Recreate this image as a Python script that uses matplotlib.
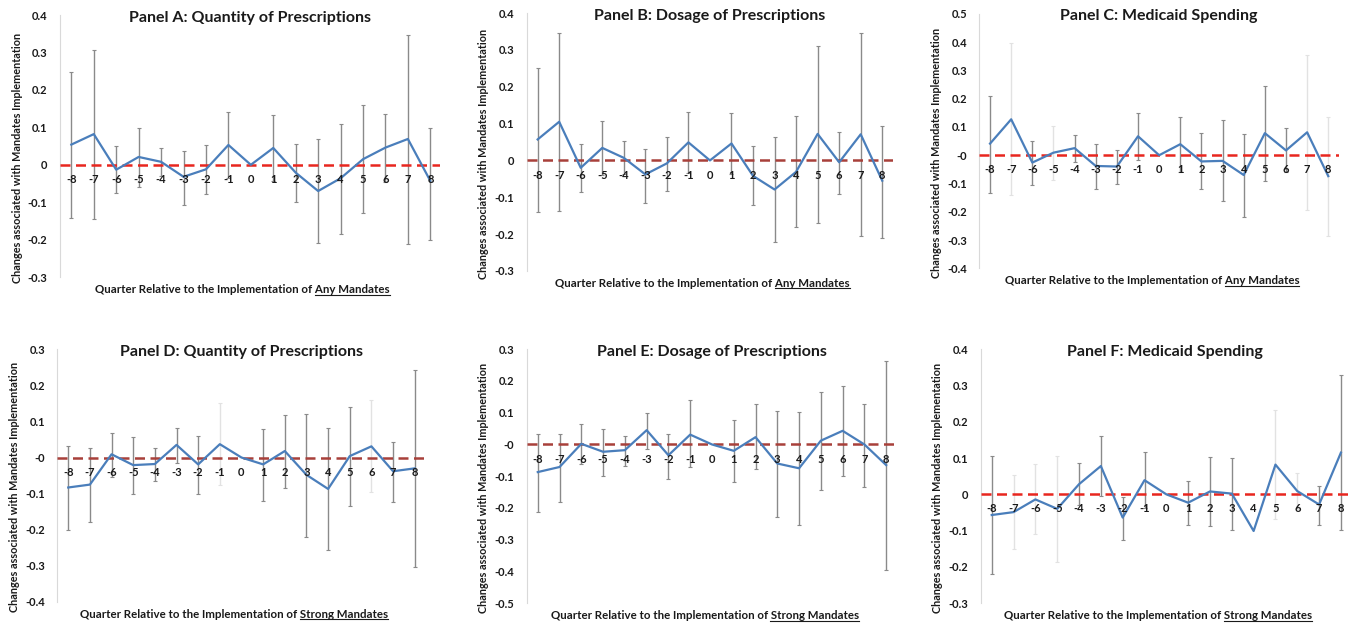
import numpy as np
import matplotlib.pyplot as plt
from matplotlib.lines import Line2D

plt.rcParams['font.family'] = ['Lato', 'DejaVu Sans']

nan = np.nan
quarters = list(range(-8, 9))

titles = ["Panel A: Quantity of Prescriptions", "Panel B: Dosage of Prescriptions",
          "Panel C: Medicaid Spending", "Panel D: Quantity of Prescriptions",
          "Panel E: Dosage of Prescriptions", "Panel F: Medicaid Spending"]
mandate = ["Any Mandates", "Any Mandates", "Any Mandates",
           "Strong Mandates", "Strong Mandates", "Strong Mandates"]

# point estimates
A_val = [0.054, 0.082, -0.013, 0.021, 0.008, -0.032, -0.012, 0.053, 0.0, 0.045, -0.021, -0.070, -0.036, 0.015, 0.046, 0.069, -0.043]
B_val = [0.057, 0.105, -0.020, 0.034, 0.007, -0.038, -0.008, 0.049, 0.0, 0.046, -0.042, -0.079, -0.031, 0.072, -0.005, 0.071, -0.055]
C_val = [0.041, 0.127, -0.026, 0.009, 0.025, -0.038, -0.040, 0.067, 0.0, 0.039, -0.022, -0.020, -0.070, 0.078, 0.017, 0.081, -0.074]
D_val = [-0.083, -0.075, 0.009, -0.021, -0.018, 0.035, -0.019, 0.037, 0.0, -0.019, 0.018, -0.048, -0.087, 0.004, 0.031, -0.038, -0.030]
E_val = [-0.087, -0.071, 0.002, -0.023, -0.018, 0.045, -0.034, 0.031, 0.0, -0.020, 0.023, -0.060, -0.075, 0.012, 0.043, 0.0, -0.065]
F_val = [-0.057, -0.049, -0.014, -0.040, 0.028, 0.078, -0.064, 0.039, 0.0, -0.023, 0.008, 0.002, -0.101, 0.082, 0.009, -0.028, 0.115]

# confidence interval bounds
A_lo = [-0.141, -0.145, -0.076, -0.059, -0.029, -0.107, -0.077, -0.034, nan, -0.043, -0.099, -0.210, -0.184, -0.129, -0.045, -0.212, -0.202]
A_hi = [0.247, 0.307, 0.049, 0.099, 0.045, 0.037, 0.054, 0.140, nan, 0.133, 0.055, 0.070, 0.109, 0.161, 0.137, 0.348, 0.098]
B_lo = [-0.140, -0.138, -0.085, -0.040, -0.038, -0.115, -0.082, -0.033, nan, -0.036, -0.122, -0.222, -0.180, -0.170, -0.092, -0.204, -0.212]
B_hi = [0.250, 0.347, 0.044, 0.107, 0.052, 0.031, 0.063, 0.131, nan, 0.128, 0.040, 0.063, 0.120, 0.311, 0.076, 0.345, 0.094]
C_lo = [-0.132, -0.142, -0.106, -0.088, -0.024, -0.118, -0.101, -0.018, nan, -0.058, -0.121, -0.162, -0.218, -0.092, -0.060, -0.192, -0.284]
C_hi = [0.210, 0.395, 0.051, 0.104, 0.070, 0.041, 0.019, 0.150, nan, 0.136, 0.077, 0.123, 0.075, 0.246, 0.096, 0.354, 0.136]
D_lo = [-0.200, -0.178, -0.053, -0.101, -0.066, -0.016, -0.101, -0.075, nan, -0.121, -0.084, -0.221, -0.256, -0.135, -0.096, -0.123, -0.302]
D_hi = [0.032, 0.026, 0.069, 0.058, 0.026, 0.083, 0.060, 0.151, nan, 0.078, 0.118, 0.121, 0.081, 0.141, 0.158, 0.042, 0.243]
E_lo = [-0.212, -0.180, -0.061, -0.098, -0.067, -0.013, -0.110, -0.072, nan, -0.119, -0.078, -0.229, -0.254, -0.143, -0.098, -0.133, -0.396]
E_hi = [0.034, 0.034, 0.066, 0.050, 0.028, 0.100, 0.034, 0.139, nan, 0.077, 0.128, 0.107, 0.102, 0.166, 0.185, 0.129, 0.262]
F_lo = [-0.219, -0.152, -0.109, -0.187, -0.030, -0.005, -0.125, -0.038, nan, -0.084, -0.087, -0.099, nan, -0.069, -0.040, -0.085, -0.099]
F_hi = [0.107, 0.054, 0.084, 0.107, 0.087, 0.162, -0.006, 0.116, nan, 0.038, 0.103, 0.101, nan, 0.233, 0.058, 0.023, 0.328]

# bars that look very faint in the original
faint = [[], [], [-7, -5, 7, 8], [-1, 6], [], [-7, -6, -5, 5, 6]]

vals = [A_val, B_val, C_val, D_val, E_val, F_val]
los = [A_lo, B_lo, C_lo, D_lo, E_lo, F_lo]
his = [A_hi, B_hi, C_hi, D_hi, E_hi, F_hi]
ylims = [(-0.3, 0.4), (-0.3, 0.4), (-0.4, 0.5), (-0.4, 0.3), (-0.5, 0.3), (-0.3, 0.4)]
zero_col = ['#e8261f', '#a8403a', '#e8261f', '#a8403a', '#a8403a', '#e8261f']

# axes boxes [left, bottom, width, height]
boxes = [[0.0445, 0.558, 0.2815, 0.418], [0.390, 0.568, 0.271, 0.411], [0.725, 0.572, 0.266, 0.406],
         [0.0425, 0.040, 0.2725, 0.403], [0.390, 0.038, 0.274, 0.405], [0.726, 0.038, 0.273, 0.405]]
xrights = [8.45, 8.5, 8.5, 8.5, 8.5, 8.4]

fig = plt.figure(figsize=(13.51, 6.27), dpi=100)
xlabels = []
for i in range(6):
    ax = fig.add_axes(boxes[i])
    q = np.array(quarters)
    v = np.array(vals[i])
    lo = np.array(los[i])
    hi = np.array(his[i])
    ok = ~np.isnan(lo)
    dark = ok & ~np.isin(q, faint[i])
    light = ok & np.isin(q, faint[i])
    for m, c in [(dark, '#8a8a8a'), (light, '#e2e2e2')]:
        ax.errorbar(q[m], v[m], yerr=[v[m] - lo[m], hi[m] - v[m]], fmt='none',
                    ecolor=c, elinewidth=1.0, capsize=1.5, capthick=0.8, zorder=2)
    ax.axhline(0, color=zero_col[i], lw=1.8, ls=(0, (4, 2.2)), zorder=3)
    ax.plot(q, v, color='#4a7ebb', lw=1.6, zorder=4)
    for x in quarters:
        ax.annotate(str(x), (x, 0), xytext=(0, -10.5), textcoords='offset points',
                    ha='center', va='center', fontsize=8, fontweight='bold', color='#1a1a1a', zorder=5)
    ax.set_xlim(-8.5, xrights[i])
    ax.set_ylim(*ylims[i])
    yt = np.round(np.arange(ylims[i][0], ylims[i][1] + 0.001, 0.1), 1)
    ax.set_yticks(yt)
    ax.set_yticklabels([f"{t:g}" for t in yt], fontsize=8, fontweight='bold', color='#1a1a1a')
    ax.set_xticks([])
    ax.tick_params(axis='y', length=0, pad=9)
    for s in ['top', 'right', 'bottom']:
        ax.spines[s].set_visible(False)
    ax.spines['left'].set_color('#d9d9d9')
    ax.text(0.5, 0.99, titles[i], transform=ax.transAxes, ha='center', va='center',
            fontsize=11.5, fontweight='bold', color='#1a1a1a')
    ax.annotate("Changes associated with Mandates Implementation", (0, 0.455), xycoords='axes fraction',
                xytext=(-31, 0), textcoords='offset points', rotation=90, ha='center', va='center',
                fontsize=7.8, fontweight='bold', color='#1a1a1a')
    t = ax.annotate("Quarter Relative to the Implementation of " + mandate[i], (0.48, 0),
                    xycoords='axes fraction', xytext=(0, -9), textcoords='offset points',
                    ha='center', va='center', fontsize=8.3, fontweight='bold', color='#1a1a1a')
    xlabels.append((t, mandate[i]))

# underline the mandate type in each x label
fig.canvas.draw()
r = fig.canvas.get_renderer()
for t, word in xlabels:
    bb = t.get_window_extent(r)
    tmp = fig.text(0, 0, word, fontsize=8.3, fontweight='bold')
    w = tmp.get_window_extent(r).width
    tmp.remove()
    x1 = bb.x1 / fig.bbox.width
    x0 = (bb.x1 - w) / fig.bbox.width
    y = (bb.y0 + 0.5) / fig.bbox.height
    fig.add_artist(Line2D([x0, x1], [y, y], color='#1a1a1a', lw=0.8))

fig.savefig("out.png", dpi=100)
